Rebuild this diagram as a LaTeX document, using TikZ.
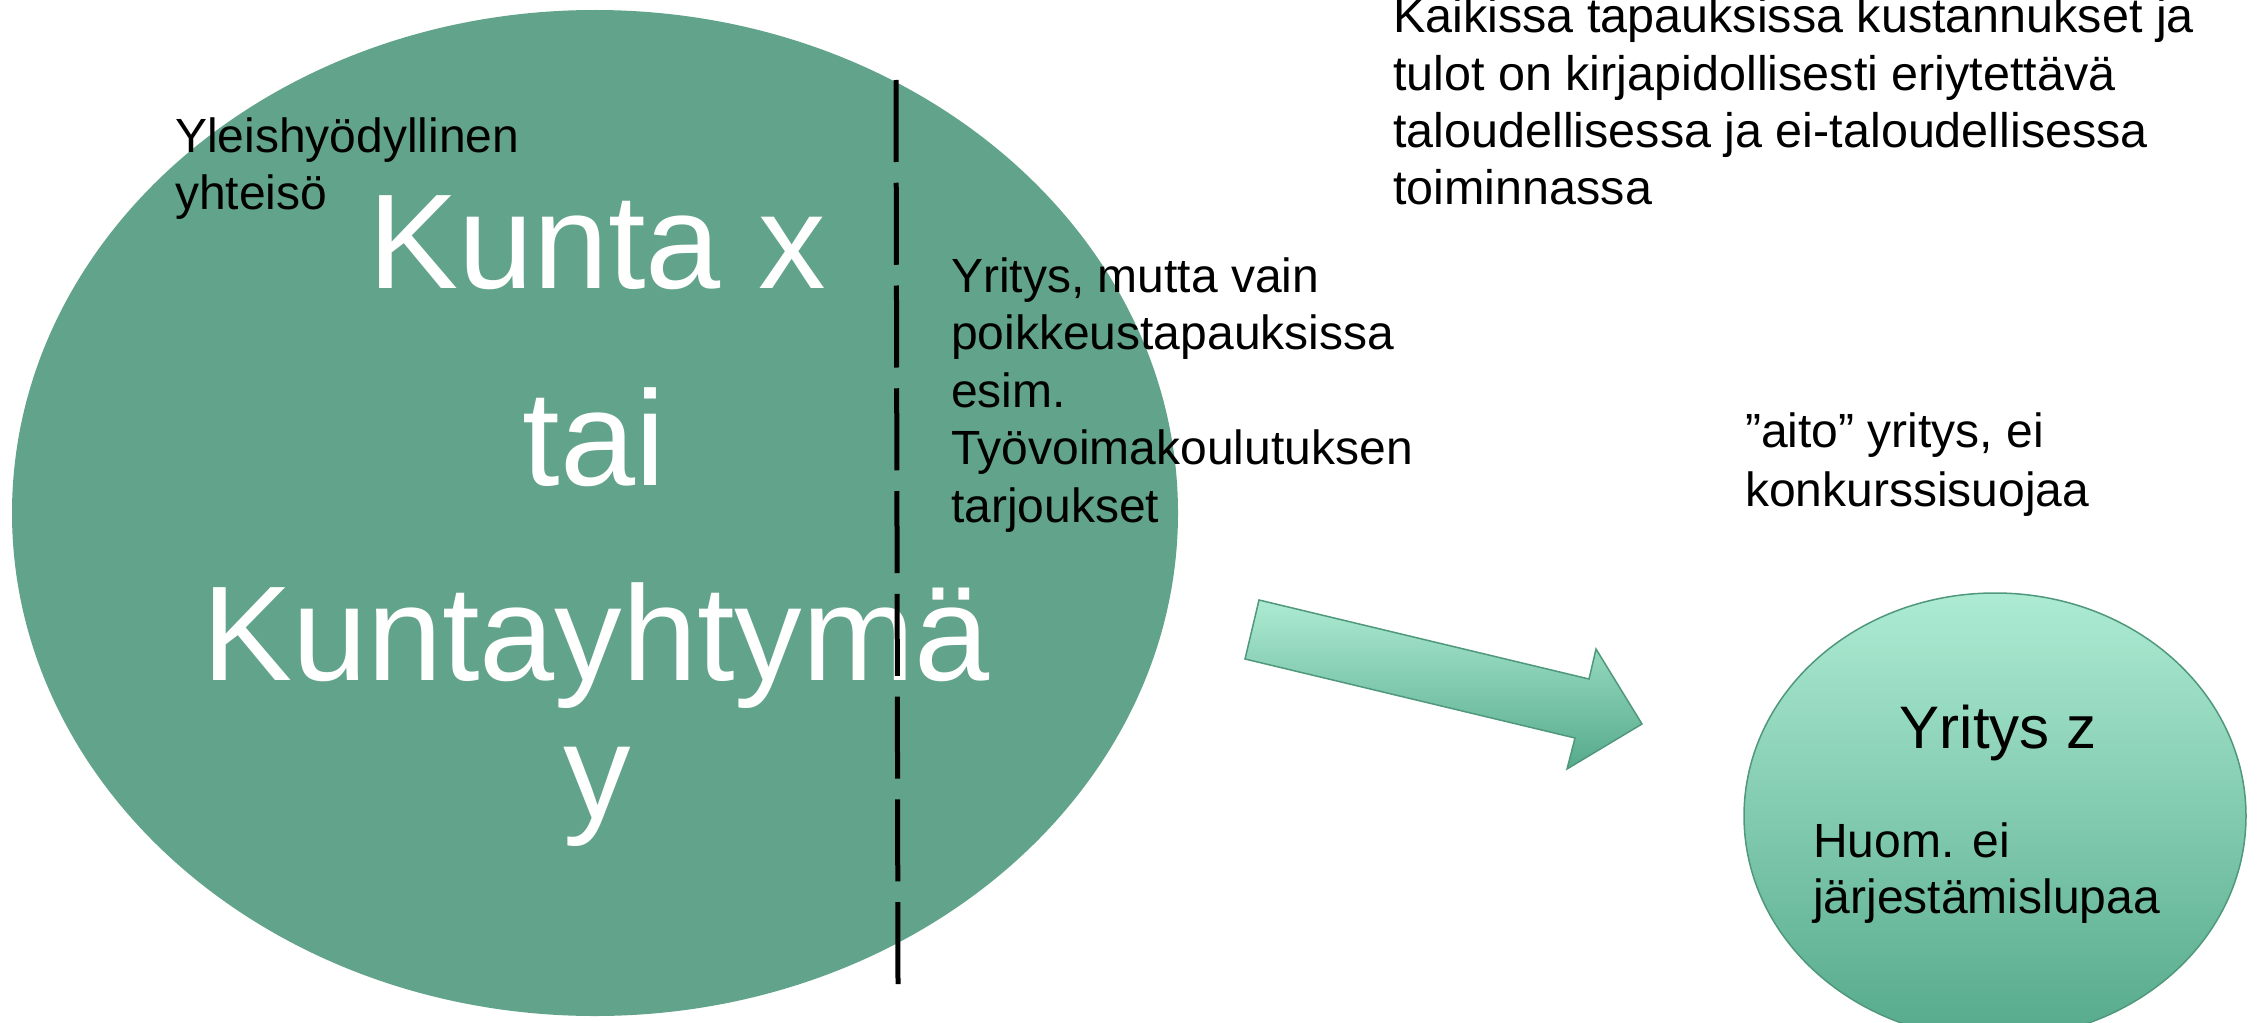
\documentclass[tikz,border=0pt]{standalone}
\usepackage{fontspec}
\setmainfont{Liberation Sans}
\definecolor{bigg}{RGB}{98,163,139}
\definecolor{mintl}{RGB}{173,235,211}
\definecolor{mintm}{RGB}{150,214,189}
\definecolor{mintd}{RGB}{86,170,140}
\definecolor{edgeg}{RGB}{80,152,124}
\begin{document}
\begin{tikzpicture}[x=1pt,y=-1pt,
  small/.style={inner sep=0pt, anchor=base west, font=\fontsize{48}{57.5}\selectfont},
  bigtext/.style={inner sep=0pt, anchor=base, text=white, font=\fontsize{135}{160}\selectfont},
  mintshade/.style={top color=mintl, bottom color=mintd, draw=edgeg, line width=1.5pt},
  divider/.style={line width=5pt, dash pattern=on 82pt off 20.75pt}]
\useasboundingbox (0,0) rectangle (2258,1022);
\clip (0,0) rectangle (2258,1022);

% big ellipse
\fill[bigg] (595,513) ellipse [x radius=583, y radius=503];

% big white text
\node[bigtext] (kunta) at (597,288) {Kunta x};
\node[bigtext] (tai) at (594,485) {tai};
\node[bigtext] (kuntay) at (596,680) {Kuntayhtymä};
\node[bigtext] (yy) at (597,818) {y};

% dashed divider
\coordinate (dtop) at (896,80);
\coordinate (dbot) at (898,984);
\draw[divider] (dtop) -- (dbot);

% small texts
\node[small, font=\fontsize{48}{57}\selectfont] (yleis) at (175,153)
  {\vtop{\hbox{Yleishyödyllinen}\hbox{yhteisö}}};
\node[small] (yritys) at (951,292)
  {\vtop{\hbox{Yritys, mutta vain}\hbox{poikkeustapauksissa}\hbox{esim.}\hbox{Työvoimakoulutuksen}\hbox{tarjoukset}}};
\node[small, font=\fontsize{48.5}{57.3}\selectfont] (kaikissa) at (1393,33)
  {\vtop{\hbox{Kaikissa tapauksissa kustannukset ja}\hbox{tulot on kirjapidollisesti eriytettävä}\hbox{taloudellisessa ja ei-taloudellisessa}\hbox{toiminnassa}}};
\node[small, font=\fontsize{48}{59}\selectfont] (aito) at (1745,447)
  {\vtop{\hbox{”aito” yritys, ei}\hbox{konkurssisuojaa}}};

% block arrow
\coordinate (a1) at (1259,600);
\coordinate (a2) at (1589,679);
\coordinate (a3) at (1596,649);
\coordinate (a4) at (1642,724);
\coordinate (a5) at (1567,769);
\coordinate (a6) at (1575,738);
\coordinate (a7) at (1245,659);
\fill[black, opacity=0.10, shift={(2,8)}] (a1) -- (a2) -- (a3) -- (a4) -- (a5) -- (a6) -- (a7) -- cycle;
\fill[black, opacity=0.08, shift={(1,5)}] (a1) -- (a2) -- (a3) -- (a4) -- (a5) -- (a6) -- (a7) -- cycle;
\shade[mintshade] (a1) -- (a2) -- (a3) -- (a4) -- (a5) -- (a6) -- (a7) -- cycle;

% small ellipse
\shade[top color=mintl, middle color=mintm, bottom color=mintd, draw=edgeg, line width=1.5pt]
  (1995,816) ellipse [x radius=251, y radius=223];
\node[inner sep=0pt, anchor=base, font=\fontsize{60}{70}\selectfont] (yz) at (1998,748) {Yritys z};
\node[small, font=\fontsize{48}{56}\selectfont] (huom) at (1813,857)
  {\vtop{\hbox{Huom. ei}\hbox{järjestämislupaa}}};
\end{tikzpicture}
\end{document}
